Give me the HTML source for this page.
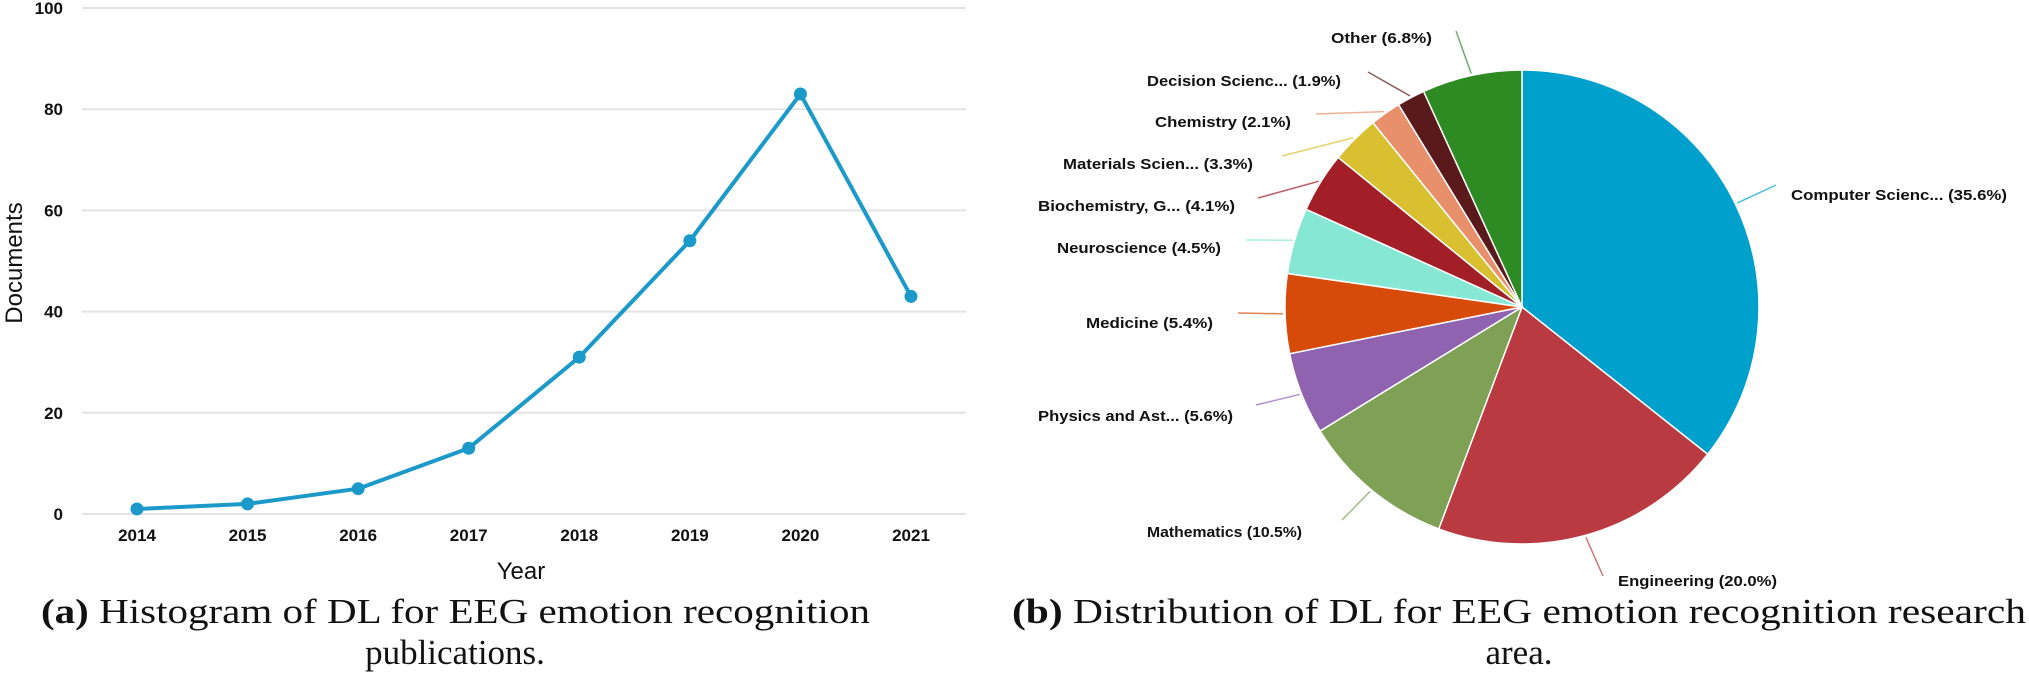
<!DOCTYPE html>
<html><head><meta charset="utf-8"><style>
html,body{margin:0;padding:0;background:#fff;}
svg{display:block;}
.t{font-family:"Liberation Sans",sans-serif;font-weight:bold;fill:#111;}
.cap{font-family:"Liberation Serif",serif;fill:#111;}
</style></head><body>
<svg id="s" width="2029" height="698" viewBox="0 0 2029 698" xmlns="http://www.w3.org/2000/svg">
<g id="lineChart"></g>
<g id="pieChart"></g>
<text class="cap" x="41" y="623" font-size="35" textLength="829" lengthAdjust="spacingAndGlyphs"><tspan font-weight="bold">(a)</tspan> Histogram of DL for EEG emotion recognition</text>
<text class="cap" x="455" y="664" font-size="35" text-anchor="middle">publications.</text>
<text class="cap" x="1012" y="623" font-size="35" textLength="1014" lengthAdjust="spacingAndGlyphs"><tspan font-weight="bold">(b)</tspan> Distribution of DL for EEG emotion recognition research</text>
<text class="cap" x="1519" y="664" font-size="35" text-anchor="middle">area.</text>
</svg>
<script>
const years = ["2014","2015","2016","2017","2018","2019","2020","2021"];
const documents = [1, 2, 5, 13, 31, 54, 83, 43];
const yTicks = [0, 20, 40, 60, 80, 100];
const areaNames = ["Computer Scienc... (35.6%)","Engineering (20.0%)","Mathematics (10.5%)","Physics and Ast... (5.6%)","Medicine (5.4%)","Neuroscience (4.5%)","Biochemistry, G... (4.1%)","Materials Scien... (3.3%)","Chemistry (2.1%)","Decision Scienc... (1.9%)","Other (6.8%)"];
const areaShares = [35.6, 20.0, 10.5, 5.6, 5.4, 4.5, 4.1, 3.3, 2.1, 1.9, 6.8];

const NS = "http://www.w3.org/2000/svg";
function mk(tag, attrs, parent, txt){const e=document.createElementNS(NS,tag);for(const k in attrs)e.setAttribute(k,attrs[k]);if(txt!==undefined)e.textContent=txt;parent.appendChild(e);return e;}

// line chart
const lc = document.getElementById('lineChart');
const x0=82,x1=966,y0=514,y100=8;
const xs = i => 137 + i*(911-137)/(years.length-1);
const ys = v => y0 - v*(y0-y100)/100;
yTicks.forEach(t=>{
  const g=mk('line',{x1:x0,x2:x1,y1:ys(t),y2:ys(t),stroke:'#e3e3e3','stroke-width':2},lc);
  
  
  const l=mk('text',{x:63,y:ys(t)+6,'text-anchor':'end','font-size':17,class:'t'},lc,String(t));
  
  
});
years.forEach((y,i)=>{
  const l=mk('text',{x:xs(i),y:541,'text-anchor':'middle','font-size':17,class:'t'},lc,y);
  
  
});
const yt=mk('text',{x:0,y:0,transform:'translate(22,263) rotate(-90)','text-anchor':'middle','font-size':24,class:'t'},lc,'Documents');


yt.style.fontWeight='normal';
const xt=mk('text',{x:521,y:579,'text-anchor':'middle','font-size':24,class:'t'},lc,'Year');


xt.style.fontWeight='normal';
const pl=mk('polyline',{points:documents.map((v,i)=>xs(i)+','+ys(v)).join(' '),fill:'none',stroke:'#1b9ac9','stroke-width':4,'stroke-linejoin':'round'},lc);


documents.forEach((v,i)=>{
  const c=mk('circle',{cx:xs(i),cy:ys(v),r:6.5,fill:'#1b9ac9'},lc);
  
  
});

// pie chart
const pc=document.getElementById('pieChart');
const cx=1522,cy=307,R=237;
const colors=['#00a0cc','#b93a40','#7ea155','#8f63b0','#d64b0a','#86e8d4','#a31f28','#d8c030','#e8906c','#5a1a1c','#2e8b23'];
const labelPos=[[1791,200,'start'],[1618,586,'start'],[1302,537,'end'],[1233,421,'end'],[1213,328,'end'],[1221,253,'end'],[1235,211,'end'],[1253,169,'end'],[1291,127,'end'],[1341,86,'end'],[1432,43,'end']];
const lineEnds=[[1776,185],[1603,576],[1342,520],[1256,405],[1238,313],[1246,240],[1258,198],[1282,156],[1316,114],[1368,72],[1456,31]];
const labelW=[216,159,155,195,127,164,197,190,136,194,101];
const total=areaShares.reduce((a,b)=>a+b,0);
let acc=0;
areaShares.forEach((s,i)=>{
  const a0=acc/total*2*Math.PI, a1=(acc+s)/total*2*Math.PI; acc+=s;
  const p=a=>[cx+R*Math.sin(a),cy-R*Math.cos(a)];
  const [sx,sy]=p(a0),[ex,ey]=p(a1);
  const large=(a1-a0)>Math.PI?1:0;
  const sl=mk('path',{d:`M${cx},${cy}L${sx},${sy}A${R},${R} 0 ${large} 1 ${ex},${ey}Z`,fill:colors[i],stroke:'#fff','stroke-width':1.5},pc);
  
  
  const am=(a0+a1)/2; const [mx,my]=[cx+(R+2)*Math.sin(am),cy-(R+2)*Math.cos(am)];
  const le=lineEnds[i];
  const ln=mk('line',{x1:mx,y1:my,x2:le[0],y2:le[1],stroke:colors[i],'stroke-width':1.5,opacity:0.7},pc);
  
  
  const lp=labelPos[i];
  const tx=mk('text',{x:lp[0],y:lp[1],'text-anchor':lp[2],'font-size':15,class:'t',textLength:labelW[i],lengthAdjust:'spacingAndGlyphs'},pc,areaNames[i]);
  
  
});
</script>
</body></html>
